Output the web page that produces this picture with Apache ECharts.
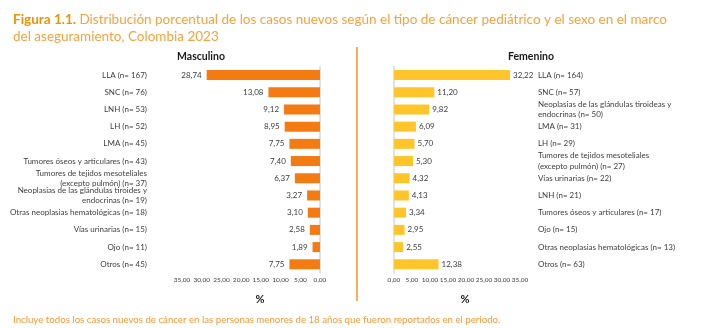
<!DOCTYPE html>
<html><head><meta charset="utf-8">
<script src="https://cdn.jsdelivr.net/npm/echarts@6/dist/echarts.min.js"></script>
<style>html,body{margin:0;padding:0;background:#fff}#c{width:711px;height:328px}</style>
</head><body><div id="c"></div>
<script>
const maleCategories = ['LLA (n= 167)','SNC (n= 76)','LNH (n= 53)','LH (n= 52)','LMA (n= 45)','Tumores óseos y articulares (n= 43)','Tumores de tejidos mesoteliales\n(excepto pulmón) (n= 37)','Neoplasias de las glándulas tiroides y\nendocrinas (n= 19)','Otras neoplasias hematológicas (n= 18)','Vías urinarias (n= 15)','Ojo (n= 11)','Otros (n= 45)'];
const maleValues = [28.74,13.08,9.12,8.95,7.75,7.40,6.37,3.27,3.10,2.58,1.89,7.75];
const femaleCategories = ['LLA (n= 164)','SNC (n= 57)','Neoplasias de las glándulas tiroideas y\nendocrinas (n= 50)','LMA (n= 31)','LH (n= 29)','Tumores de tejidos mesoteliales\n(excepto pulmón) (n= 27)','Vías urinarias (n= 22)','LNH (n= 21)','Tumores óseos y articulares (n= 17)','Ojo (n= 15)','Otras neoplasias hematológicas (n= 13)','Otros (n= 63)'];
const femaleValues = [32.22,11.20,9.82,6.09,5.70,5.30,4.32,4.13,3.34,2.95,2.55,12.38];
const axisMin = 0, axisMax = 35, axisStep = 5;

const FONT = 'Lato';
const fmt = v => Number(v).toFixed(2).replace('.', ',');
const chart = echarts.init(document.getElementById('c'));
const xCommon = {
  type:'value', min:axisMin, max:axisMax, interval:axisStep,
  axisLine:{show:false}, axisTick:{show:false}, splitLine:{show:false},
  axisLabel:{formatter:fmt, fontSize:6.5, color:'#404040', fontFamily:FONT, margin:4, interval:0}
};
const lineAxis = (grid, pos, data) => ({
  type:'category', gridIndex:grid, position:pos, inverse:true, data:data,
  axisLine:{show:true, lineStyle:{color:'#d9d9d9', width:1.5}}, axisTick:{show:false}, axisLabel:{show:false}
});
const labelAxis = (grid, pos, data, margin, align) => ({
  type:'category', gridIndex:grid, position:pos, inverse:true, data:data,
  axisLine:{show:false}, axisTick:{show:false},
  axisLabel:{show:true, interval:0, margin:margin, align:align, fontSize:8, lineHeight:10.5, color:'#404040', fontFamily:FONT}
});
chart.setOption({
  animation:false,
  textStyle:{fontFamily:FONT},
  title:[{
    left:8, top:6,
    text:'{b|Figura 1.1.} Distribución porcentual de los casos nuevos según el tipo de cáncer pediátrico y el sexo en el marco\ndel aseguramiento, Colombia 2023',
    textStyle:{fontFamily:FONT, fontSize:13.5, fontWeight:'normal', color:'#F6A23E', lineHeight:17,
      rich:{b:{fontFamily:FONT, fontSize:13.5, fontWeight:'bold', color:'#F39200', lineHeight:17}}}
  },{
    left:8, top:310,
    text:'Incluye todos los casos nuevos de cáncer en las personas menores de 18 años que fueron reportados en el periodo.',
    textStyle:{fontFamily:FONT, fontSize:9.7, fontWeight:'normal', color:'#F39A3A'}
  },{
    left:196, top:46, textAlign:'center', text:'Masculino',
    textStyle:{fontFamily:FONT, fontSize:10.5, fontWeight:'bold', color:'#1a1a1a'}
  },{
    left:526, top:46, textAlign:'center', text:'Femenino',
    textStyle:{fontFamily:FONT, fontSize:10.5, fontWeight:'bold', color:'#1a1a1a'}
  },{
    left:255, top:289, textAlign:'center', text:'%',
    textStyle:{fontFamily:FONT, fontSize:11, fontWeight:'bold', color:'#1a1a1a'}
  },{
    left:460, top:289, textAlign:'center', text:'%',
    textStyle:{fontFamily:FONT, fontSize:11, fontWeight:'bold', color:'#1a1a1a'}
  }],
  graphic:[{type:'line', shape:{x1:357, y1:47, x2:357, y2:301}, style:{stroke:'#F7941D', lineWidth:1.5}}],
  grid:[
    {left:182, width:138, top:66.4, height:206.5},
    {left:394, width:126, top:66.4, height:206.5}
  ],
  xAxis:[
    Object.assign({gridIndex:0, inverse:true}, xCommon),
    Object.assign({gridIndex:1}, xCommon)
  ],
  yAxis:[
    lineAxis(0,'right',maleCategories),
    labelAxis(0,'left',maleCategories,35,'right'),
    lineAxis(1,'left',femaleCategories),
    labelAxis(1,'right',femaleCategories,18,'left')
  ],
  series:[{
    type:'bar', xAxisIndex:0, yAxisIndex:0, data:maleValues, barWidth:10,
    itemStyle:{color:'#F47A12'},
    label:{show:true, position:'left', distance:5, formatter:p=>fmt(p.value), fontSize:8, color:'#404040', fontFamily:FONT}
  },{
    type:'bar', xAxisIndex:1, yAxisIndex:2, data:femaleValues, barWidth:10,
    itemStyle:{color:'#FFC52B'},
    label:{show:true, position:'right', distance:3, formatter:p=>fmt(p.value), fontSize:8, color:'#404040', fontFamily:FONT}
  }]
});
</script></body></html>
